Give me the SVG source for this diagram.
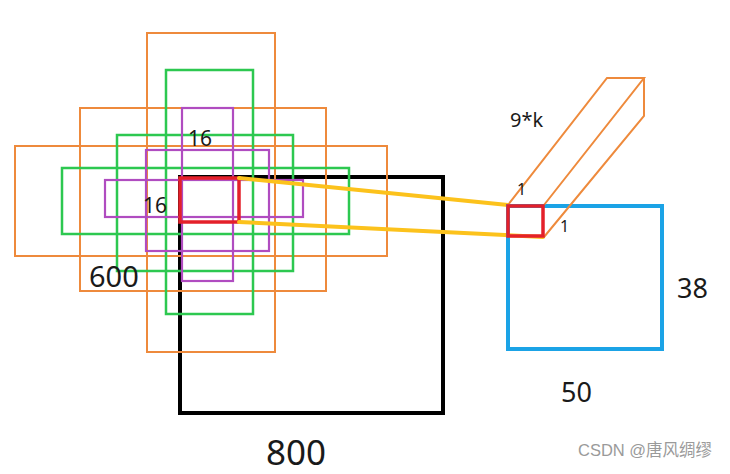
<svg xmlns="http://www.w3.org/2000/svg" width="730" height="474" viewBox="0 0 730 474">
<style>
.o{fill:none;stroke:#EE8A3C;stroke-width:2}
.g{fill:none;stroke:#2DC850;stroke-width:2.5}
.p{fill:none;stroke:#B04CC0;stroke-width:2.2}
.r{fill:none;stroke:#E4202A;stroke-width:3.5}
.k{fill:none;stroke:#000;stroke-width:4}
.b{fill:none;stroke:#1BA3E6;stroke-width:4}
.y{fill:none;stroke:#FCC21C;stroke-width:4;stroke-linecap:round}
.t{font-family:"Noto Sans","Open Sans","Liberation Sans",sans-serif;fill:#1a1a1a}
.w{font-family:"Liberation Sans","Noto Sans CJK SC",sans-serif;fill:#9a9a9a;stroke:#fff;stroke-width:0.6;paint-order:stroke}
</style>
<rect width="730" height="474" fill="#fff"/>
<g id="feature-map">
  <rect class="k" x="180" y="177" width="263" height="236"/>
</g>
<g id="anchors">
  <rect class="o" x="147" y="33" width="128" height="319"/>
  <rect class="o" x="80" y="108" width="246" height="183"/>
  <rect class="o" x="15" y="146" width="372" height="110"/>
  <rect class="g" x="166" y="70" width="87" height="244"/>
  <rect class="g" x="117" y="135" width="176" height="136"/>
  <rect class="g" x="62" y="168" width="287" height="66"/>
  <rect class="p" x="182" y="108" width="51" height="173"/>
  <rect class="p" x="146" y="150" width="123" height="101"/>
  <rect class="p" x="105" y="180" width="198" height="37"/>
</g>
<g id="window">
  <rect class="r" x="180" y="178" width="59" height="44"/>
</g>
<g id="connectors">
  <line class="y" x1="239" y1="178" x2="508" y2="205"/>
  <line class="y" x1="239" y1="222" x2="543" y2="237"/>
</g>
<g id="output-map">
  <rect class="b" x="508" y="206" width="154" height="143"/>
</g>
<g id="prism">
  <path class="o" d="M508,205 L607,78 L644,78 L544,205 M644,78 L644,116 L544,237"/>
  <rect class="r" x="508" y="206" width="35" height="30"/>
</g>
<g id="labels">
  <text class="t" x="188" y="146" font-size="21">16</text>
  <text class="t" x="143" y="213" font-size="21">16</text>
  <text class="t" x="89" y="287" font-size="29">600</text>
  <text class="t" x="266" y="465" font-size="35">800</text>
  <text class="t" x="510" y="127" font-size="20">9*k</text>
  <text class="t" x="517" y="195" font-size="16">1</text>
  <text class="t" x="560" y="232" font-size="16">1</text>
  <text class="t" x="677" y="298" font-size="27">38</text>
  <text class="t" x="561" y="402" font-size="27">50</text>
  <text class="w" x="578" y="456" font-size="16.5">CSDN @唐风绸缪</text>
</g>
</svg>
